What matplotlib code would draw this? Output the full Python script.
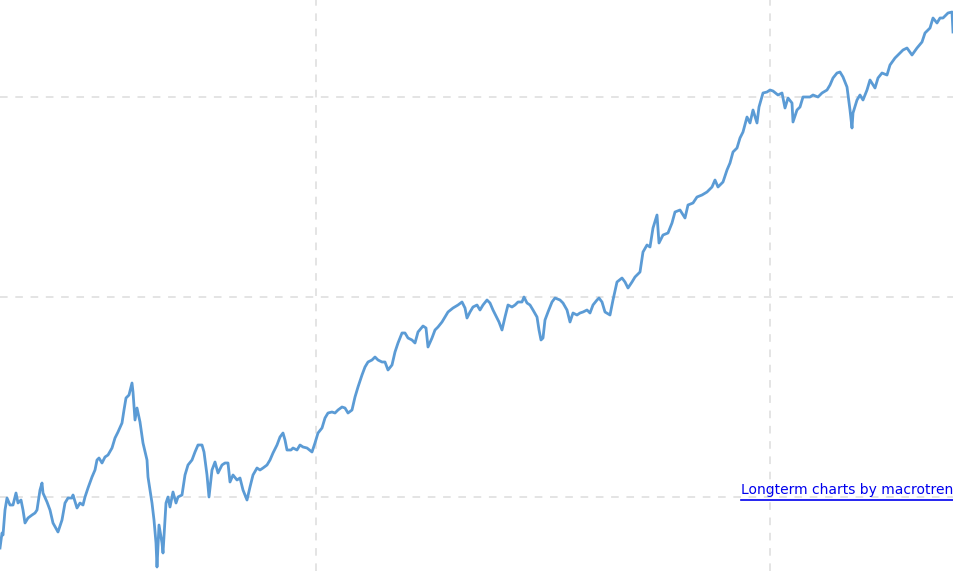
import matplotlib
matplotlib.use("Agg")
import matplotlib.pyplot as plt

# trading-day index and closing level
day = [0, 8, 12, 20, 28, 40, 52, 64, 72, 84, 92, 100, 112, 128, 140, 148, 160, 168, 172, 188,
       200, 212, 232, 248, 260, 272, 288, 292, 308, 320, 332, 340, 352, 368, 380, 388, 396, 408,
       420, 432, 448, 460, 472, 488, 496, 504, 516, 528, 532, 540, 548, 560, 572, 588, 592, 608,
       616, 624, 628, 636, 648, 652, 664, 672, 680, 692, 704, 712, 728, 740, 752, 768, 780, 792,
       808, 816, 828, 836, 848, 860, 872, 888, 900, 912, 920, 932, 948, 960, 972, 988, 1000, 1012,
       1028, 1040, 1052, 1068, 1080, 1092, 1108, 1120, 1132, 1140, 1148, 1164, 1172, 1188, 1200,
       1212, 1228, 1248, 1260, 1272, 1288, 1300, 1312, 1328, 1340, 1352, 1368, 1380, 1392, 1408,
       1420, 1432, 1448, 1460, 1472, 1488, 1500, 1512, 1528, 1540, 1552, 1568, 1580, 1592, 1608,
       1620, 1632, 1648, 1660, 1672, 1692, 1704, 1712, 1728, 1740, 1752, 1768, 1780, 1792, 1812,
       1832, 1848, 1860, 1868, 1880, 1892, 1908, 1920, 1932, 1948, 1960, 1972, 1988, 1996, 2008,
       2020, 2032, 2048, 2060, 2072, 2088, 2096, 2108, 2120, 2132, 2148, 2156, 2164, 2172, 2180,
       2192, 2208, 2220, 2240, 2252, 2268, 2280, 2292, 2308, 2320, 2332, 2348, 2360, 2372, 2388,
       2396, 2408, 2420, 2440, 2452, 2468, 2488, 2500, 2512, 2528, 2540, 2560, 2572, 2588, 2600,
       2612, 2628, 2636, 2652, 2672, 2688, 2700, 2720, 2740, 2752, 2772, 2788, 2808, 2828, 2848,
       2860, 2872, 2892, 2908, 2920, 2932, 2948, 2960, 2972, 2988, 3000, 3012, 3028, 3036, 3052,
       3068, 3080, 3092, 3112, 3128, 3140, 3152, 3168, 3172, 3188, 3200, 3212, 3228, 3240, 3252,
       3272, 3288, 3308, 3320, 3332, 3348, 3360, 3372, 3388, 3400, 3408, 3412, 3428, 3440, 3452,
       3468, 3480, 3500, 3512, 3528, 3548, 3560, 3580, 3600, 3612, 3628, 3648, 3668, 3688, 3700,
       3720, 3732, 3748, 3760, 3772, 3792, 3808, 3812]
close = [745, 820, 810, 935, 995, 960, 960, 1020, 970, 985, 935, 870, 895, 910, 920, 935, 1035,
         1070, 1020, 975, 935, 870, 825, 885, 970, 995, 995, 1010, 945, 970, 960, 1000, 1045, 1100,
         1135, 1185, 1195, 1170, 1200, 1210, 1245, 1295, 1325, 1370, 1435, 1495, 1510, 1570, 1525,
         1385, 1445, 1375, 1270, 1185, 1100, 970, 885, 770, 650, 860, 770, 720, 970, 1000, 950,
         1025, 970, 1000, 1010, 1110, 1160, 1185, 1225, 1260, 1260, 1225, 1110, 1000, 1135, 1175,
         1120, 1160, 1170, 1170, 1075, 1110, 1085, 1095, 1035, 985, 1050, 1110, 1145, 1135, 1145,
         1160, 1185, 1220, 1260, 1300, 1320, 1285, 1235, 1235, 1245, 1235, 1260, 1250, 1245, 1225,
         1270, 1320, 1345, 1395, 1420, 1425, 1420, 1435, 1450, 1445, 1420, 1435, 1500, 1550, 1610,
         1650, 1675, 1685, 1700, 1685, 1675, 1675, 1635, 1660, 1725, 1770, 1820, 1820, 1795, 1785,
         1770, 1825, 1855, 1845, 1750, 1795, 1835, 1850, 1875, 1900, 1925, 1945, 1960, 1975, 1945,
         1895, 1925, 1950, 1960, 1935, 1960, 1985, 1970, 1935, 1895, 1875, 1835, 1900, 1960, 1950,
         1960, 1975, 1975, 2000, 1970, 1960, 1935, 1900, 1835, 1785, 1795, 1885, 1925, 1975, 1995,
         1985, 1970, 1935, 1875, 1920, 1910, 1920, 1925, 1935, 1920, 1960, 1985, 1995, 1975, 1925,
         1910, 1985, 2075, 2095, 2075, 2045, 2075, 2100, 2125, 2225, 2260, 2250, 2345, 2410, 2270,
         2310, 2320, 2370, 2425, 2435, 2395, 2460, 2470, 2500, 2510, 2525, 2550, 2585, 2550, 2575,
         2635, 2670, 2725, 2745, 2795, 2825, 2900, 2870, 2935, 2870, 2950, 3020, 3025, 3035, 3030,
         3010, 3020, 2945, 2995, 2970, 2875, 2935, 2950, 3000, 3000, 3000, 3010, 3000, 3020, 3035,
         3060, 3095, 3120, 3125, 3100, 3050, 2935, 2845, 2920, 2985, 3010, 2985, 3035, 3085, 3045,
         3095, 3120, 3110, 3160, 3195, 3220, 3235, 3245, 3210, 3245, 3275, 3320, 3345, 3395, 3370,
         3395, 3395, 3420, 3425, 3325]

x_grid = [1264, 3080]
y_grid = [1000, 2000, 3000]

fig = plt.figure(figsize=(9.54, 5.71), dpi=100)
ax = fig.add_axes([0, 0, 1, 1])

ax.plot(day, close, color="#5b9bd5", lw=2.0, solid_joinstyle="round", zorder=3)

for gx in x_grid:
    ax.axvline(gx, color="#dddddd", lw=1.1, ls=(0, (5, 5)), zorder=1)
for gy in y_grid:
    ax.axhline(gy, color="#dddddd", lw=1.1, ls=(0, (5, 5)), zorder=1)

ax.set_xlim(0, 3816)
ax.set_ylim(630, 3485)
ax.set_xticks([])
ax.set_yticks([])
for s in ax.spines.values():
    s.set_visible(False)

# credit link, runs off the right edge like the original
ax.text(741 / 954, 1 - 490 / 571, "Longterm charts by macrotrends", transform=ax.transAxes,
        color="#0000ee", fontsize=10, ha="left", va="center", clip_on=False, zorder=4)
ax.plot([741 / 954, 1], [1 - 500 / 571] * 2, transform=ax.transAxes,
        color="#0000ee", lw=1.2, zorder=4)

fig.savefig("out.png", dpi=100)
